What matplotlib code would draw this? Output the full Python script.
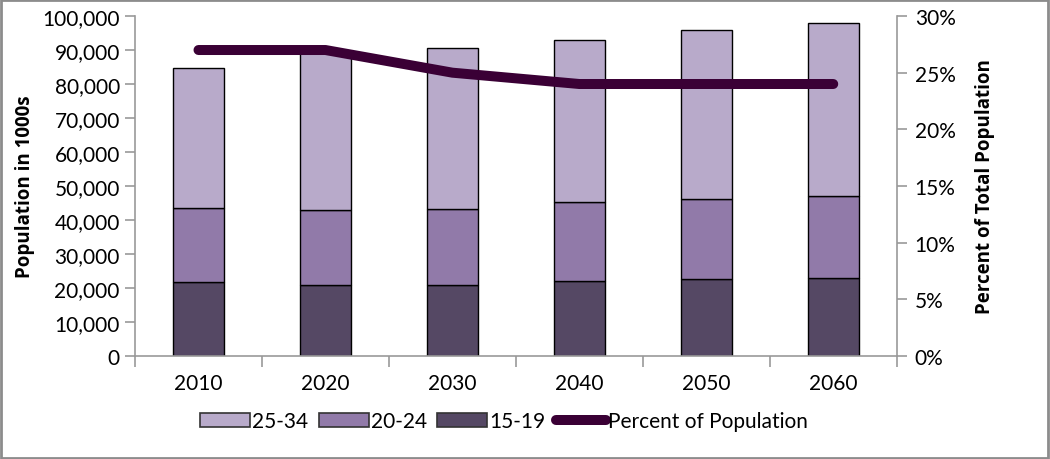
import numpy as np
import matplotlib.pyplot as plt
from matplotlib.ticker import FuncFormatter
from matplotlib.patches import Rectangle

plt.rcParams['font.family'] = ['Lato', 'DejaVu Sans']

years = ['2010', '2020', '2030', '2040', '2050', '2060']
# population in 1000s by age group
age_15_19 = [21900, 21000, 21000, 22100, 22500, 23000]
age_20_24 = [21600, 21900, 22200, 23200, 23700, 24100]
age_25_34 = [41200, 46600, 47300, 47600, 49600, 50800]
pct_of_pop = [0.27, 0.27, 0.25, 0.24, 0.24, 0.24]

c_2534 = '#b8aaca'
c_2024 = '#917aa9'
c_1519 = '#554864'
c_line = '#3a0035'
grey = '#999999'

fig = plt.figure(figsize=(10.5, 4.6), dpi=100)
ax = fig.add_axes([0.1286, 0.224, 0.7254, 0.739])
ax2 = ax.twinx()

x = np.arange(len(years))
w = 0.40
b1 = ax.bar(x, age_15_19, w, color=c_1519, edgecolor='black', linewidth=1, label='15-19')
b2 = ax.bar(x, age_20_24, w, bottom=age_15_19, color=c_2024, edgecolor='black', linewidth=1, label='20-24')
bottom3 = np.array(age_15_19) + np.array(age_20_24)
b3 = ax.bar(x, age_25_34, w, bottom=bottom3, color=c_2534, edgecolor='black', linewidth=1, label='25-34')

ln, = ax2.plot(x, pct_of_pop, color=c_line, linewidth=7.2, solid_capstyle='round',
               solid_joinstyle='round', label='Percent of Population')

# axes limits and ticks
ax.set_xlim(-0.5, len(years) - 0.5)
ax.set_ylim(0, 100000)
ax.set_yticks(np.arange(0, 100001, 10000))
ax.yaxis.set_major_formatter(FuncFormatter(lambda v, p: f'{int(v):,}'))
ax2.set_ylim(0, 0.30)
ax2.set_yticks(np.arange(0, 0.301, 0.05))
ax2.yaxis.set_major_formatter(FuncFormatter(lambda v, p: f'{v*100:.0f}%'))

ax.set_xticks(x)
ax.set_xticklabels(years)
ax.set_xticks(np.arange(-0.5, len(years)), minor=True)
ax.tick_params(axis='x', which='major', length=0, labelsize=15, pad=12)
ax.tick_params(axis='x', which='minor', length=8, width=1.2, color=grey, direction='out')
ax.tick_params(axis='y', length=7, width=1.2, color=grey, labelsize=15, pad=4)
ax2.tick_params(axis='y', length=7, width=1.2, color=grey, labelsize=15, pad=6)

for a in (ax, ax2):
    a.spines['top'].set_visible(False)
    for s in ('left', 'right', 'bottom'):
        a.spines[s].set_color(grey)
        a.spines[s].set_linewidth(1.2)
ax.spines['right'].set_visible(False)
ax2.spines['left'].set_visible(False)
ax2.spines['bottom'].set_visible(False)

label_font = dict(fontsize=13.5, fontweight='bold', family=['Open Sans', 'DejaVu Sans'])
ax.set_ylabel('Population in 1000s', labelpad=5, **label_font)
ax2.set_ylabel('Percent of Total Population', labelpad=14, **label_font)

leg = fig.legend([b3, b2, b1, ln], ['25-34', '20-24', '15-19', 'Percent of Population'],
                 loc='center', bbox_to_anchor=(0.48, 0.082), ncol=4, frameon=False,
                 fontsize=15, handlelength=2.4, handleheight=0.6, handletextpad=0.1,
                 columnspacing=0.5)
for h in leg.legend_handles[:3]:
    h.set_edgecolor('#333333')
    h.set_linewidth(1.2)

# chart border
fig.patches.append(Rectangle((0.001, 0.002), 0.997, 0.995, transform=fig.transFigure,
                             fill=False, edgecolor='#8c8c8c', linewidth=2))

fig.savefig('out.png', dpi=100)
